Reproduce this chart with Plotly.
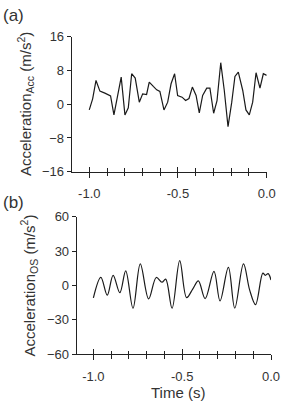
import plotly.graph_objects as go

# ---- data ----
time_a = [-1.000, -0.981, -0.962, -0.940, -0.912, -0.880, -0.861, -0.820, -0.799, -0.780,
          -0.761, -0.741, -0.718, -0.699, -0.677, -0.662, -0.639, -0.620, -0.602, -0.579,
          -0.558, -0.539, -0.519, -0.502, -0.477, -0.457, -0.438, -0.419, -0.398, -0.380,
          -0.361, -0.338, -0.320, -0.299, -0.280, -0.259, -0.239, -0.218, -0.197, -0.179,
          -0.160, -0.135, -0.117, -0.098, -0.079, -0.060, -0.038, -0.019, 0.000]
acc_a = [-1.35, 1.27, 5.63, 3.10, 2.62, 1.98, -2.54, 6.43, -2.54, -0.87,
         7.22, 6.19, 0.48, 2.46, 2.30, 5.24, 4.21, 3.41, 3.02, -1.35,
         0.48, 4.84, 7.22, 2.06, 1.67, 0.87, 1.35, 4.05, 2.06, -2.06,
         2.06, 3.81, 3.81, -2.14, 0.87, 9.84, 3.25, -5.32, 0.48, 6.59,
         7.62, 3.25, -1.35, -2.54, 0.48, 7.46, 3.81, 7.22, 6.83]

time_b = [-1.000, -0.958, -0.922, -0.889, -0.851, -0.818, -0.777, -0.736, -0.689, -0.646,
          -0.614, -0.593, -0.557, -0.514, -0.475, -0.440, -0.409, -0.371, -0.321, -0.287,
          -0.240, -0.204, -0.155, -0.120, -0.087, -0.046, -0.032, -0.016, 0.000]
acc_b = [-11.0, 6.9, -8.6, 8.8, -6.4, 12.7, -20.0, 18.8, -11.8, 6.9,
         2.7, 5.5, -20.0, 21.6, -10.7, -3.0, 3.9, -11.6, 12.2, -13.6,
         15.7, -19.9, 18.7, -4.2, -16.9, 10.7, 8.8, 10.3, 4.7]

x_tick_vals = [-1.0, -0.5, 0.0]
x_tick_text = ["-1.0", "-0.5", "0.0"]
x_minor_vals = [-0.9, -0.8, -0.7, -0.6, -0.4, -0.3, -0.2, -0.1]
ya_ticks = [-16, -8, 0, 8, 16]
yb_ticks = [-60, -30, 0, 30, 60]

W, H = 284, 407
FONT = "Liberation Sans, Arial, sans-serif"
AX = "#222222"
TXT = "#333333"

def px_x(p):
    return p / W

def px_y(p):
    return (H - p) / H

fig = go.Figure()
fig.add_trace(go.Scatter(x=time_a, y=acc_a, mode="lines", xaxis="x", yaxis="y",
                         line=dict(color="#1a1a1a", width=1.2), showlegend=False))
fig.add_trace(go.Scatter(x=time_b, y=acc_b, mode="lines", xaxis="x2", yaxis="y2",
                         line=dict(color="#1a1a1a", width=1.2, shape="spline", smoothing=1.0),
                         showlegend=False))
# empty traces for overlay tick axes (ticks crossing the x axis line)
fig.add_trace(go.Scatter(x=[], y=[], xaxis="x3", yaxis="y", showlegend=False))
fig.add_trace(go.Scatter(x=[], y=[], xaxis="x4", yaxis="y2", showlegend=False))

def xaxis_common(rng, dom, inside=False, labels=True):
    d = dict(range=rng, domain=dom, showgrid=False, zeroline=False, automargin=False,
             tickmode="array", tickvals=x_tick_vals, ticktext=x_tick_text,
             ticks="inside" if inside else "outside", ticklen=5, tickwidth=1, tickcolor=AX,
             minor=dict(tickmode="array", tickvals=x_minor_vals,
                        ticks="inside" if inside else "outside", ticklen=3.5,
                        tickwidth=1, tickcolor=AX, showgrid=False),
             showticklabels=labels,
             tickfont=dict(family=FONT, size=13, color=TXT),
             fixedrange=True)
    if not inside:
        d.update(showline=True, linecolor=AX, linewidth=1, ticklabelstandoff=5)
    else:
        d.update(showline=False)
    return d

dom_a = [px_x(71.7), px_x(266.7)]
dom_b = [px_x(76.7), px_x(271.0)]
rng_a = [-1.099, 0.0]
rng_b = [-1.094, 0.0]

xa = xaxis_common(rng_a, dom_a)
xa.update(anchor="y")
xb = xaxis_common(rng_b, dom_b)
xb.update(anchor="y2")
x3 = xaxis_common(rng_a, dom_a, inside=True, labels=False)
x3.update(anchor="y", overlaying="x", side="bottom")
x4 = xaxis_common(rng_b, dom_b, inside=True, labels=False)
x4.update(anchor="y2", overlaying="x2", side="bottom")

def yaxis_common(rng, dom, ticks, anchor):
    return dict(range=rng, domain=dom, anchor=anchor, showgrid=False, zeroline=False,
                automargin=False, tickmode="array", tickvals=ticks,
                ticks="outside", ticklen=4, tickwidth=1, tickcolor=AX,
                showline=True, linecolor=AX, linewidth=1,
                tickfont=dict(family=FONT, size=13, color=TXT), fixedrange=True)

ya = yaxis_common([-16, 16], [px_y(171.7), px_y(36.7)], ya_ticks, "x")
yb = yaxis_common([-60, 60], [px_y(354.0), px_y(216.7)], yb_ticks, "x2")

ann = [
    dict(text="(a)", x=px_x(13), y=px_y(15), font=dict(size=17)),
    dict(text="(b)", x=px_x(13), y=px_y(203), font=dict(size=17)),
    dict(text="Acceleration<sub>Acc</sub> (m/s<sup>2</sup>)", x=px_x(25), y=px_y(104),
         textangle=-90, font=dict(size=15)),
    dict(text="Acceleration<sub>OS</sub> (m/s<sup>2</sup>)", x=px_x(29.5), y=px_y(286),
         textangle=-90, font=dict(size=15)),
    dict(text="Time (s)", x=px_x(177.5), y=px_y(392.7), font=dict(size=15)),
]
for a in ann:
    a.update(xref="paper", yref="paper", showarrow=False, xanchor="center", yanchor="middle")
    a["font"].update(family=FONT, color=TXT)

fig.update_layout(
    width=W, height=H,
    margin=dict(l=0, r=0, t=0, b=0, pad=0),
    paper_bgcolor="white", plot_bgcolor="white",
    xaxis=xa, xaxis2=xb, xaxis3=x3, xaxis4=x4,
    yaxis=ya, yaxis2=yb,
    annotations=ann,
    showlegend=False,
)

fig.write_html("out.html", config={"displayModeBar": False})
